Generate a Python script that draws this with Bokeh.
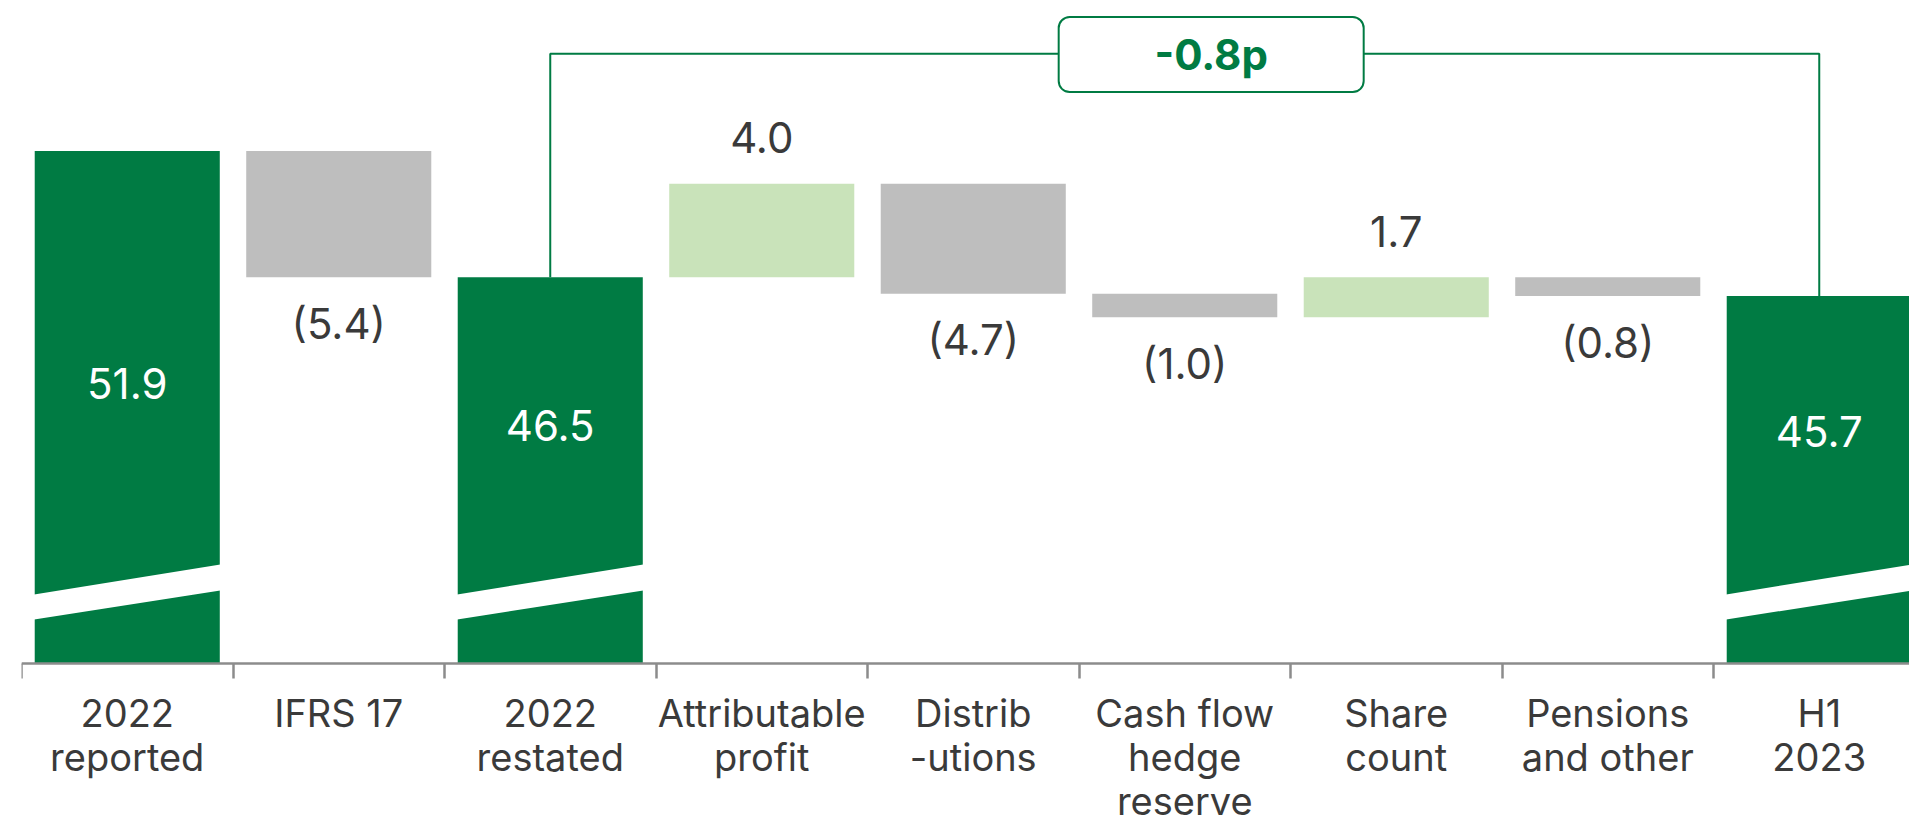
from bokeh.plotting import figure
from bokeh.models import Range1d, FixedTicker, ColumnDataSource
from bokeh.core.properties import value
from bokeh.embed import file_html
from bokeh.resources import INLINE

# ---------------- data ----------------
categories = ["2022\nreported", "IFRS 17", "2022\nrestated", "Attributable\nprofit",
              "Distrib\n-utions", "Cash flow\nhedge\nreserve", "Share\ncount",
              "Pensions\nand other", "H1\n2023"]
kinds = ["total", "delta", "total", "delta", "delta", "delta", "delta", "delta", "total"]
values = [51.9, -5.4, 46.5, 4.0, -4.7, -1.0, 1.7, -0.8, 45.7]

# ---------------- styles ----------------
DARK_GREEN = "#007B43"
LIGHT_GREEN = "#C9E3BA"
GREY = "#BEBEBE"
TEXT = "#3A3A3A"
AXIS = "#8C8C8C"
FONT = "Inter"

BASE = 30.0          # broken-axis baseline
BAR_W = 0.875
Y_BOTTOM = 23.376
Y_TOP = 58.33
BRACKET_Y = 56.05

# waterfall geometry from the values
bottoms, tops, colors = [], [], []
running = 0.0
for k, v in zip(kinds, values):
    if k == "total":
        running = v
        bottoms.append(BASE)
        tops.append(v)
        colors.append(DARK_GREEN)
    else:
        start = running
        running = round(running + v, 2)
        bottoms.append(min(start, running))
        tops.append(max(start, running))
        colors.append(LIGHT_GREEN if v > 0 else GREY)

xs = [i + 0.5 for i in range(len(categories))]

p = figure(width=1909, height=818, output_backend="svg", toolbar_location=None,
           x_range=Range1d(0, 1888 / 211.5), y_range=Range1d(Y_BOTTOM, Y_TOP),
           min_border_left=21, min_border_right=0, min_border_top=0, min_border_bottom=0,
           y_axis_location=None)
p.outline_line_color = None
p.xgrid.visible = False
p.ygrid.visible = False
p.background_fill_color = "white"
p.border_fill_color = "white"

src = ColumnDataSource(dict(x=xs, bottom=bottoms, top=tops, color=colors))
p.vbar(x="x", width=BAR_W, bottom="bottom", top="top", fill_color="color",
       line_color=None, source=src)

# axis-break marks on the total bars (white slanted gap)
bx, by = [], []
for x, k in zip(xs, kinds):
    if k == "total":
        l, r = x - BAR_W / 2 - 0.01, x + BAR_W / 2 + 0.01
        bx.append([l, r, r, l])
        by.append([BASE + 1.87, BASE + 3.13, BASE + 4.24, BASE + 2.94])
p.patches(bx, by, fill_color="white", line_color=None)

# value labels
tx, ty, tt, tc, toff = [], [], [], [], []
for x, k, v, b, t in zip(xs, kinds, values, bottoms, tops):
    if k == "total":
        tx.append(x); ty.append(BASE + 4.73 + 0.33 * (t - BASE)); tt.append(f"{v:.1f}")
        tc.append("white"); toff.append(0)
    elif v > 0:
        tx.append(x); ty.append(t); tt.append(f"{v:.1f}")
        tc.append(TEXT); toff.append(-46)
    else:
        tx.append(x); ty.append(b); tt.append(f"({abs(v):.1f})")
        tc.append(TEXT); toff.append(46)
lsrc = ColumnDataSource(dict(x=tx, y=ty, text=tt, color=tc, off=toff))
p.text(x="x", y="y", text="text", text_color="color", y_offset="off",
       text_align="center", text_baseline="middle",
       text_font=value(FONT), text_font_size="42px", source=lsrc)

# bracket from restated to H1 2023
i0, i1 = 2, 8
p.line([xs[i0], xs[i0], xs[i1], xs[i1]], [tops[i0], BRACKET_Y, BRACKET_Y, tops[i1]],
       line_color=DARK_GREEN, line_width=2)
diff = values[i1] - values[i0]
p.rect(x=[5.625], y=[BRACKET_Y - 0.03], width=305, height=75,
       width_units="screen", height_units="screen", border_radius=11,
       fill_color="white", line_color=DARK_GREEN, line_width=2)
p.text(x=[5.625], y=[BRACKET_Y - 0.03], text=[f"{diff:.1f}p"], text_color=DARK_GREEN,
       text_align="center", text_baseline="middle", text_font=value(FONT),
       text_font_style="bold", text_font_size="42px")

# x axis drawn at the broken baseline
ax = p.xaxis[0]
ax.fixed_location = BASE
ax.ticker = FixedTicker(ticks=xs, minor_ticks=list(range(len(categories) + 1)))
ax.major_label_overrides = {x: c for x, c in zip(xs, categories)}
ax.major_tick_out = 0
ax.major_tick_in = 0
ax.minor_tick_out = 15
ax.minor_tick_in = 0
ax.minor_tick_line_color = AXIS
ax.minor_tick_line_width = 2.5
ax.axis_line_color = AXIS
ax.axis_line_width = 2.5
ax.major_label_text_font = FONT
ax.major_label_text_font_size = "38px"
ax.major_label_text_color = TEXT
ax.major_label_text_line_height = 0.953
ax.major_label_standoff = 12

open("out.html", "w").write(file_html(p, INLINE))
